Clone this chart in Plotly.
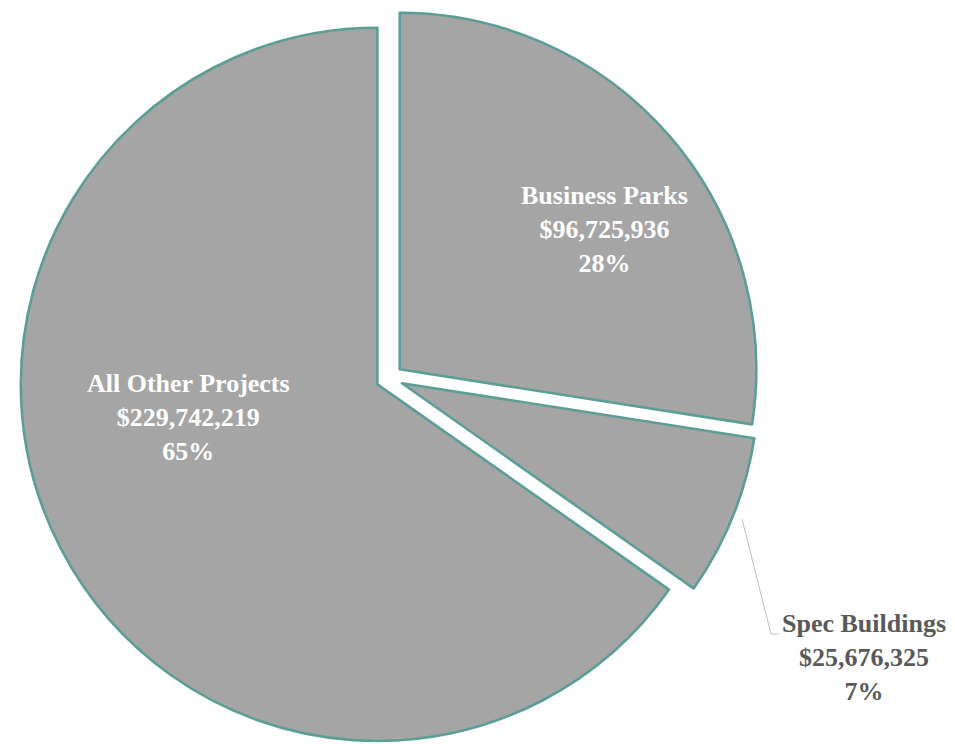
import plotly.graph_objects as go

# Data
labels = ["Business Parks", "Spec Buildings", "All Other Projects"]
values = [96725936, 25676325, 229742219]
pct_labels = ["28%", "7%", "65%"]

FILL = "#a5a5a5"
EDGE = "#5c9e97"
W, H = 955, 744
OFF = 8  # page body margin offsets the figure by 8px


def to_paper(x, y):
    # page pixel -> paper coords of the figure
    return (x - OFF) / W, 1 - (y - OFF) / H


fig = go.Figure(
    go.Pie(
        labels=labels,
        values=values,
        sort=False,
        direction="clockwise",
        rotation=0,
        pull=[0.038, 0.038, 0.038],
        textinfo="none",
        hoverinfo="label+value+percent",
        marker=dict(colors=[FILL] * len(values), line=dict(color=EDGE, width=2.6)),
        domain=dict(x=[0, 0.7988], y=[0.005, 1]),
        showlegend=False,
    )
)

# data labels (page pixel positions)
label_pos = {
    "Business Parks": (604, 230, "white"),
    "All Other Projects": (188, 418, "white"),
    "Spec Buildings": (864, 657, "#595959"),
}
for lab, val, pct in zip(labels, values, pct_labels):
    px_, py_, col = label_pos[lab]
    ax, ay = to_paper(px_, py_)
    fig.add_annotation(
        text=f"<b>{lab}</b><br><b>${val:,}</b><br><b>{pct}</b>",
        xref="paper", yref="paper",
        x=ax, y=ay,
        xanchor="center", yanchor="middle",
        align="center",
        showarrow=False,
        font=dict(family="Times New Roman, Liberation Serif, serif", size=26, color=col),
    )

# leader line for the Spec Buildings label
pts = [(742, 519), (771, 634), (779, 634)]
path = "M " + " L ".join("{:.4f},{:.4f}".format(*to_paper(x, y)) for x, y in pts)
fig.add_shape(type="path", path=path, xref="paper", yref="paper",
              line=dict(color="#bfbfbf", width=1))

fig.update_layout(
    width=W,
    height=H,
    margin=dict(l=0, r=0, t=0, b=0),
    paper_bgcolor="white",
    plot_bgcolor="white",
)

fig.write_html("out.html")
